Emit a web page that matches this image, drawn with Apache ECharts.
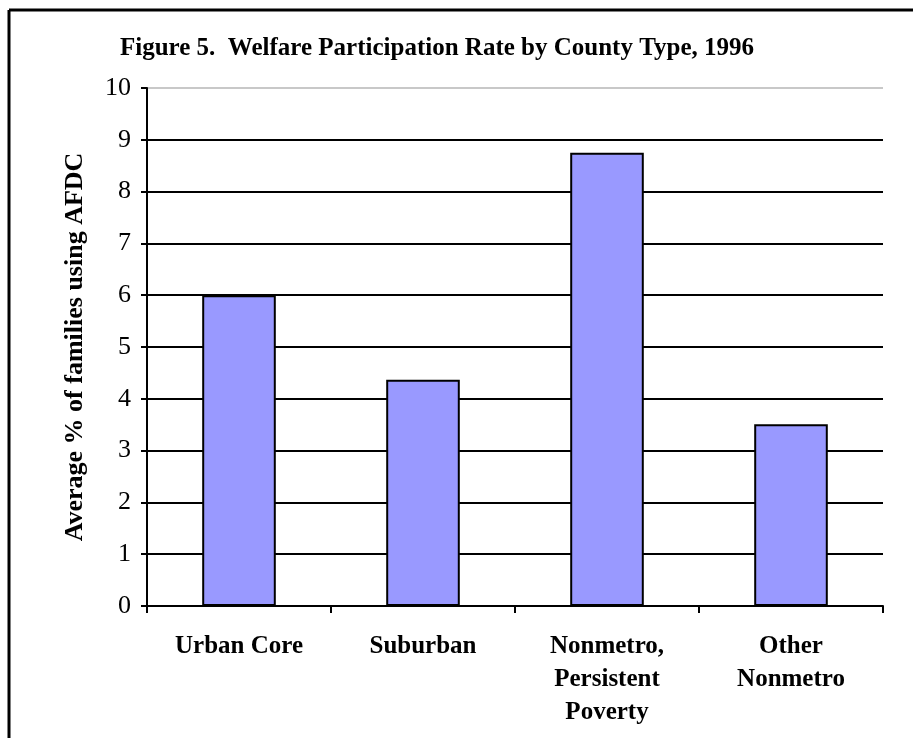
<!DOCTYPE html>
<html>
<head>
<meta charset="utf-8">
<script src="https://cdn.jsdelivr.net/npm/echarts@6/dist/echarts.min.js"></script>
<style>
  body { margin: 0; background: #fff; }
  #chart { width: 913px; height: 738px; }
</style>
</head>
<body>
<div id="chart"></div>
<script>
var categories = ["Urban Core", "Suburban", "Nonmetro,\nPersistent\nPoverty", "Other\nNonmetro"];
var rates = [6.0, 4.37, 8.75, 3.51];
var yTicks = [0, 1, 2, 3, 4, 5, 6, 7, 8, 9, 10];

var font = "'Liberation Serif', 'Times New Roman', serif";
// grid line colours: black, the top (10) line is light grey
var gridColors = yTicks.map(function (t) { return t === 10 ? "#c8c8c8" : "#000"; });

var myChart = echarts.init(document.getElementById("chart"));
myChart.setOption({
  animation: false,
  backgroundColor: "#fff",
  title: {
    text: "Figure 5.  Welfare Participation Rate by County Type, 1996",
    left: 115,
    top: 31,
    textStyle: { fontFamily: font, fontWeight: "bold", fontSize: 25, color: "#000" }
  },
  graphic: [
    { type: "line", shape: { x1: 9, y1: 10, x2: 913, y2: 10 }, style: { stroke: "#000", lineWidth: 3 } },
    { type: "line", shape: { x1: 9, y1: 10, x2: 9, y2: 738 }, style: { stroke: "#000", lineWidth: 3 } }
  ],
  grid: { left: 147, right: 30, top: 88, bottom: 132 },
  xAxis: {
    type: "category",
    data: categories,
    axisLine: { lineStyle: { color: "#000", width: 2 } },
    axisTick: { show: true, length: 7, lineStyle: { color: "#000", width: 2 } },
    axisLabel: {
      interval: 0,
      margin: 24,
      lineHeight: 33,
      fontFamily: font,
      fontWeight: "bold",
      fontSize: 25,
      color: "#000"
    }
  },
  yAxis: {
    type: "value",
    min: 0,
    max: 10,
    interval: 1,
    name: "Average % of families using AFDC",
    nameLocation: "middle",
    nameGap: 59,
    nameTextStyle: { fontFamily: font, fontWeight: "bold", fontSize: 26, color: "#000" },
    axisLine: { show: true, lineStyle: { color: "#000", width: 2 } },
    axisTick: { show: true, length: 6, lineStyle: { color: "#000", width: 2 } },
    axisLabel: { margin: 16, fontFamily: font, fontSize: 26, color: "#000" },
    splitLine: { show: true, lineStyle: { color: gridColors, width: 2 } }
  },
  series: [
    {
      type: "bar",
      data: rates,
      barWidth: "40%",
      itemStyle: { color: "#9999ff", borderColor: "#000", borderWidth: 2 }
    }
  ]
});
</script>
</body>
</html>
